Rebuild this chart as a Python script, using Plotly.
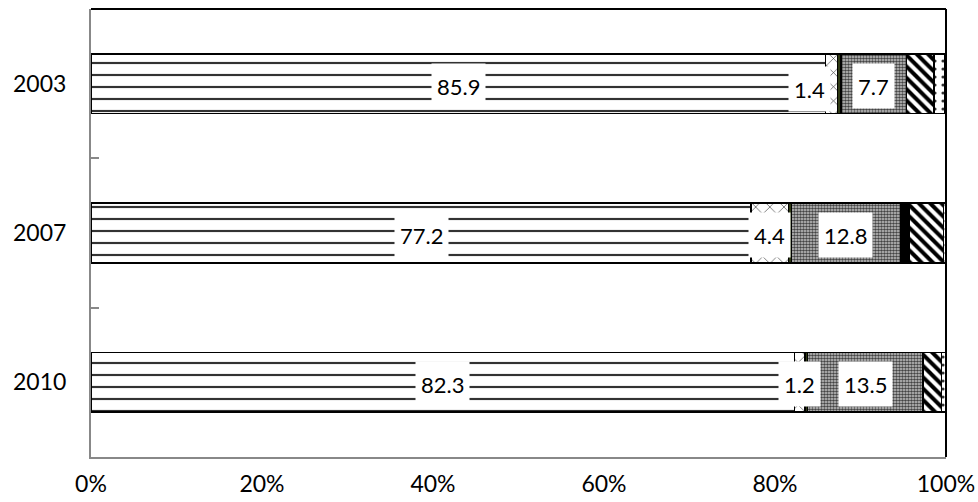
import plotly.graph_objects as go

# Survey years (top to bottom) and share of each category, in percent
years = ["2003", "2007", "2010"]
cat_a = [85.9, 77.2, 82.3]
cat_b = [1.4, 4.4, 1.2]
cat_c = [0.4, 0.3, 0.3]
cat_d = [7.7, 12.8, 13.5]
cat_e = [0.0, 1.0, 0.0]
cat_f = [3.2, 4.0, 2.2]
cat_g = [1.3, 0.3, 0.5]

# Segments whose values are printed on the bars
labelled = {"a", "b", "d"}

x_ticks = [0, 20, 40, 60, 80, 100]
x_tick_text = ["0%", "20%", "40%", "60%", "80%", "100%"]

series = [
    ("a", cat_a, dict(shape="-", size=12, solidity=0.18, fgcolor="#333", bgcolor="white"), "white"),
    ("b", cat_b, dict(shape="x", size=10, solidity=0.12, fgcolor="#333", bgcolor="white"), "white"),
    ("c", cat_c, None, "#2f3a14"),
    ("d", cat_d, dict(shape=".", size=3, solidity=0.6, fgcolor="#444", bgcolor="#cfcfcf"), "white"),
    ("e", cat_e, None, "black"),
    ("f", cat_f, dict(shape="\\", size=8, solidity=0.5, fgcolor="black", bgcolor="white"), "white"),
    ("g", cat_g, dict(shape=".", size=8, solidity=0.12, fgcolor="#333", bgcolor="white"), "white"),
]

ypos = list(range(len(years)))
fig = go.Figure()
for name, vals, pat, col in series:
    marker = dict(color=col, line=dict(color="black", width=1.5))
    if pat is not None:
        marker["pattern"] = dict(fillmode="replace", **pat)
    fig.add_trace(go.Bar(
        name=name, y=ypos, x=vals, orientation="h", width=0.4,
        marker=marker, showlegend=False, hoverinfo="x",
    ))

# Value labels centred on their segments
annotations = []
starts = [0.0] * len(years)
for name, vals, _, _ in series:
    for i, v in enumerate(vals):
        if name in labelled:
            shift_x, shift_y = 0, -2
            if name == "b" and i == 0:
                shift_x, shift_y = -22, -5
            annotations.append(dict(
                x=starts[i] + v / 2, y=i, xref="x", yref="y",
                text=f"{v:.1f}", showarrow=False,
                font=dict(family="Lato", size=22, color="black"),
                bgcolor="white", borderpad=5, height=34,
                xshift=shift_x, yshift=shift_y,
            ))
        starts[i] += v

fig.update_layout(
    barmode="stack",
    width=978, height=502,
    margin=dict(l=91, r=32, t=9, b=45),
    paper_bgcolor="white", plot_bgcolor="white",
    annotations=annotations,
    font=dict(family="Lato", size=23, color="black"),
    shapes=[
        dict(type="line", xref="paper", yref="paper", x0=0, x1=1, y0=1, y1=1,
             line=dict(color="black", width=2)),
        dict(type="line", xref="paper", yref="paper", x0=1, x1=1, y0=0, y1=1,
             line=dict(color="black", width=2)),
    ],
)
fig.update_xaxes(
    range=[0, 100], tickvals=x_ticks, ticktext=x_tick_text,
    showgrid=False, zeroline=False, showline=True, linecolor="#888", linewidth=2,
    ticks="", ticklabelstandoff=5, automargin=False,
)
fig.update_yaxes(
    range=[2.5, -0.5], tickvals=ypos, ticktext=years,
    showgrid=False, zeroline=False, showline=True, linecolor="#888", linewidth=2,
    ticks="", ticklabelstandoff=18, automargin=False,
    minor=dict(tickvals=[0.5, 1.5], ticks="inside", ticklen=8, tickcolor="#888", tickwidth=2),
)

fig.write_html("out.html")
